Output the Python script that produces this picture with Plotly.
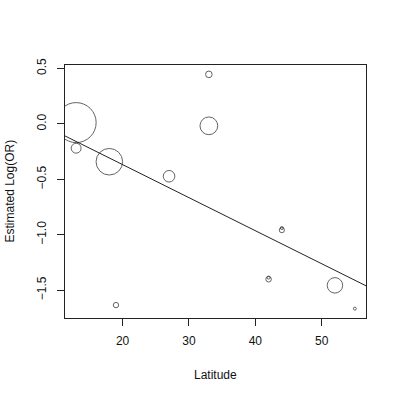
import plotly.graph_objects as go

# BCG trials: latitude, estimated log odds ratio, total sample size
latitude = [44, 55, 42, 52, 13, 44, 19, 13, 27, 42, 18, 33, 33]
log_or = [-0.939, -1.666, -1.386, -1.456, -0.219, -0.958, -1.634, 0.012,
          -0.472, -1.401, -0.341, 0.447, -0.017]
sample_size = [262, 609, 451, 26465, 10877, 2992, 3174, 176782,
               14776, 3381, 77972, 4839, 34767]

# fitted meta-regression line
intercept = 0.229
slope = -0.0298

x_ticks = [20, 30, 40, 50]
y_ticks = [-1.5, -1.0, -0.5, 0.0, 0.5]
y_tick_labels = ["\u22121.5", "\u22121.0", "\u22120.5", "0.0", "0.5"]

xmin, xmax = min(latitude), max(latitude)
ymin, ymax = min(log_or), max(log_or)
xr = [xmin - 0.04 * (xmax - xmin), xmax + 0.04 * (xmax - xmin)]
yr = [ymin - 0.04 * (ymax - ymin), ymax + 0.04 * (ymax - ymin)]

max_diam = 40.0
sizeref = 2.0 * max(sample_size) / max_diam ** 2

fig = go.Figure()
fig.add_trace(go.Scatter(
    x=xr, y=[intercept + slope * v for v in xr], mode="lines",
    line=dict(color="#222222", width=1), hoverinfo="skip", showlegend=False))
fig.add_trace(go.Scatter(
    x=latitude, y=log_or, mode="markers",
    marker=dict(size=sample_size, sizemode="area", sizeref=sizeref, sizemin=1.5,
                color="rgba(0,0,0,0)", line=dict(color="#222222", width=1)),
    showlegend=False, cliponaxis=True))

font = dict(family="Liberation Sans, Arial, Helvetica, sans-serif", size=12, color="#111111")
fig.update_layout(
    width=400, height=400,
    margin=dict(l=65, r=34, t=65, b=82),
    paper_bgcolor="white", plot_bgcolor="white",
    font=font,
    xaxis=dict(range=xr, tickvals=x_ticks, ticks="outside", ticklen=7, tickcolor="#222",
               showline=True, linecolor="#222", linewidth=1, mirror=True, automargin=False,
               showgrid=False, zeroline=False, tickfont=font, ticklabelstandoff=5),
    yaxis=dict(range=yr, tickvals=y_ticks, ticktext=y_tick_labels, ticks="outside",
               ticklen=7, tickcolor="#222", tickangle=-90, ticklabelstandoff=6,
               showline=True, linecolor="#222", linewidth=1, mirror=True, automargin=False,
               showgrid=False, zeroline=False, tickfont=font),
    annotations=[
        dict(text="Estimated Log(OR)", xref="paper", yref="paper",
             x=0, y=0.5, xanchor="center", yanchor="middle",
             xshift=-56, textangle=-90, showarrow=False, font=font),
        dict(text="Latitude", xref="paper", yref="paper",
             x=0.5, y=0, xanchor="center", yanchor="middle",
             yshift=-57, showarrow=False, font=font),
    ],
)
fig.write_html("out.html", config={"displayModeBar": False},
               post_script="document.body.style.margin='0';")
